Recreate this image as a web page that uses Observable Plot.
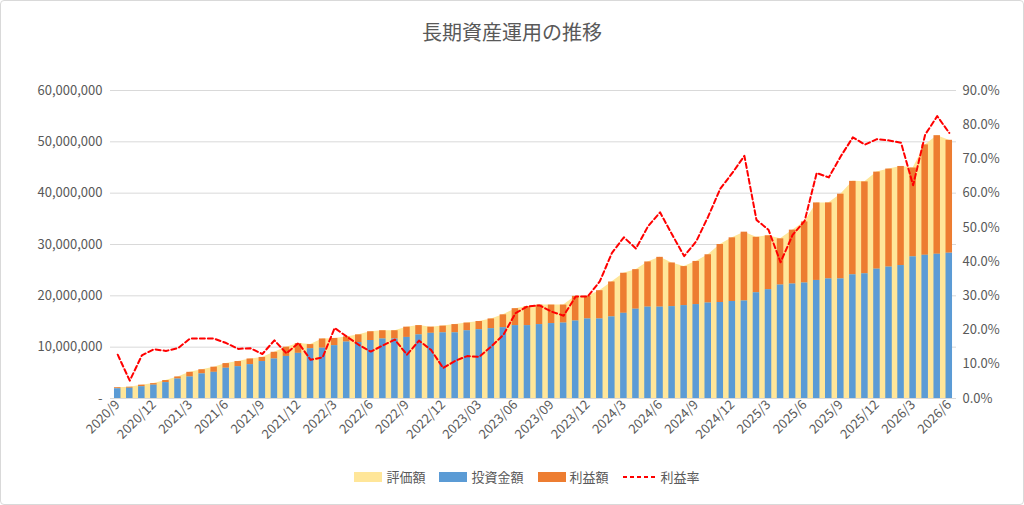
<!DOCTYPE html>
<html><head><meta charset="utf-8">
<script src="https://cdn.jsdelivr.net/npm/d3@7"></script>
<script src="https://cdn.jsdelivr.net/npm/@observablehq/plot@0.6"></script>
<style>
body{margin:0;background:#fff;font-family:"Noto Sans CJK JP","Noto Sans",sans-serif;}
#wrap{width:1022px;height:503px;border:1px solid #d9d9d9;border-radius:4px;position:relative;overflow:hidden}
#title{height:58px;line-height:62px;text-align:center;font-size:20px;color:#595959}
#legend{display:flex;justify-content:center;gap:14px;font-size:13px;color:#595959;margin-top:6px;margin-left:30px}
#legend span{display:flex;align-items:center;gap:4px}
.sw{width:28px;height:10px;display:inline-block}
</style></head><body>
<div id="wrap"><div id="title">長期資産運用の推移</div><div id="chart"></div>
<div id="legend">
<span><i class="sw" style="background:#FFE699"></i>評価額</span>
<span><i class="sw" style="background:#5B9BD5"></i>投資金額</span>
<span><i class="sw" style="background:#ED7D31"></i>利益額</span>
<span><svg width="34" height="10"><line x1="0" x2="34" y1="5" y2="5" stroke="#FF0000" stroke-width="2" stroke-dasharray="4,3"/></svg>利益率</span>
</div></div>
<script>
const tickLabels = ["2020/9","2020/12","2021/3","2021/6","2021/9","2021/12","2022/3","2022/6","2022/9","2022/12","2023/03","2023/06","2023/09","2023/12","2024/3","2024/6","2024/9","2024/12","2025/3","2025/6","2025/9","2025/12","2026/3","2026/6"];
const valuation = [2.1,2.2,2.6,2.9,3.5,4.2,5.1,5.6,6.1,6.8,7.2,7.7,8.0,9.0,10.0,10.7,10.5,11.6,11.7,12.0,12.4,13.0,13.2,13.2,13.9,14.2,13.9,14.1,14.4,14.7,15.0,15.5,16.3,17.5,17.9,18.2,18.2,18.2,19.9,19.9,21.0,22.7,24.4,25.1,26.6,27.5,26.4,25.7,26.7,28.0,30.0,31.3,32.4,31.4,31.7,31.1,32.8,34.4,38.1,38.1,39.8,42.3,42.2,44.1,44.7,45.2,44.9,49.4,51.2,50.3];
const invested = [1.9,2.0,2.3,2.6,3.1,3.8,4.2,4.8,5.1,5.9,6.2,6.6,7.2,7.7,8.2,8.8,9.7,9.8,10.3,11.0,10.9,11.3,11.6,11.6,11.9,12.4,12.7,12.8,12.8,13.2,13.4,13.6,13.8,14.2,14.2,14.4,14.6,14.7,15.1,15.5,15.5,15.9,16.6,17.4,17.8,17.8,17.9,18.1,18.3,18.6,18.7,18.9,19.0,20.6,21.2,22.1,22.3,22.5,23.0,23.3,23.3,24.1,24.3,25.2,25.6,25.9,27.6,27.9,28.1,28.3];
const rate = [12.8,5.2,12.6,14.4,13.9,14.7,17.5,17.5,17.5,16.2,14.5,14.7,13.0,17.0,13.2,16.2,11.3,12.0,20.6,18.1,15.7,13.7,15.5,17.2,12.8,16.9,14.2,8.9,11.0,12.4,12.2,15.2,18.6,24.9,26.9,27.2,25.4,24.2,29.8,29.8,34.2,42.5,47.1,43.8,50.3,54.4,47.9,41.6,45.9,53.2,61.3,65.9,70.9,52.2,49.3,39.8,47.8,51.9,65.9,64.6,70.8,76.3,74.2,75.8,75.4,74.7,62.3,77.1,82.5,77.6];

const M = 1e6, YMAX = 60e6, RMAX = 90;
const data = valuation.map((v,i)=>({i, val:v*M, inv:invested[i]*M, top:Math.max(v,invested[i])*M, r:rate[i]/RMAX*YMAX}));
const tickIdx = tickLabels.map((_,k)=>k*3);
const fmtL = d => d===0 ? "-" : d3.format(",")(d);
const col = "#595959";
const chart = Plot.plot({
  width:1022, height:402, marginLeft:109, marginRight:67, marginTop:31, marginBottom:63,
  style:{fontSize:"12.5px", color:col, fontFamily:"'Noto Sans CJK JP','Noto Sans',sans-serif"},
  x:{domain:[-0.6,69.6], axis:null},
  y:{domain:[0,YMAX], axis:null},
  marks:[
    Plot.gridY(d3.range(0,YMAX+1,10e6), {stroke:"#d9d9d9", strokeOpacity:1}),
    Plot.areaY(data, {x:"i", y:"val", fill:"#FFE699"}),
    Plot.rectY(data, {x1:d=>d.i-0.27, x2:d=>d.i+0.27, y1:"inv", y2:"top", fill:"#ED7D31"}),
    Plot.rectY(data, {x1:d=>d.i-0.27, x2:d=>d.i+0.27, y1:0, y2:"inv", fill:"#5B9BD5"}),
    Plot.line(data, {x:"i", y:"r", stroke:"#FF0000", strokeWidth:2, strokeDasharray:"5,3"}),
    Plot.axisY(d3.range(0,YMAX+1,10e6), {anchor:"left", tickSize:0, tickPadding:8, tickFormat:fmtL, fontSize:13, label:null}),
    Plot.axisY(d3.range(0,91,10).map(r=>r/RMAX*YMAX), {anchor:"right", tickSize:0, tickPadding:6, tickFormat:d=>(d/YMAX*RMAX).toFixed(1)+"%", fontSize:13, label:null}),
    Plot.axisX(tickIdx, {tickSize:0, tickPadding:4, tickRotate:-45, tickFormat:(d)=>tickLabels[d/3], fontSize:13, label:null}),
    Plot.ruleY([0], {stroke:"#d9d9d9"})
  ]
});
document.getElementById("chart").appendChild(chart);
</script></body></html>
